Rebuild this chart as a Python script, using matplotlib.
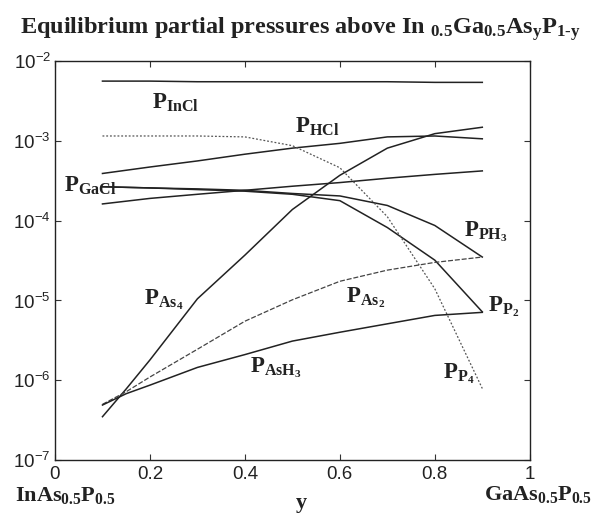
import matplotlib
matplotlib.use("Agg")
import matplotlib.pyplot as plt
from matplotlib.ticker import NullLocator

plt.rcParams['font.family'] = 'Liberation Sans'
plt.rcParams['mathtext.fontset'] = 'custom'
plt.rcParams['mathtext.rm'] = 'Liberation Serif:bold'
plt.rcParams['mathtext.it'] = 'Liberation Serif:bold'
plt.rcParams['mathtext.bf'] = 'Liberation Serif:bold'

#### data ####
y_comp = [0.1, 0.2, 0.3, 0.4, 0.5, 0.6, 0.7, 0.8, 0.9]
y_comp_as = [0.1, 0.15, 0.2, 0.3, 0.4, 0.5, 0.6, 0.7, 0.8, 0.9]

p_incl = [5.6e-3, 5.6e-3, 5.5e-3, 5.5e-3, 5.5e-3, 5.5e-3, 5.5e-3, 5.4e-3, 5.4e-3]
p_hcl = [3.9e-4, 4.7e-4, 5.6e-4, 6.8e-4, 8.1e-4, 9.3e-4, 1.12e-3, 1.15e-3, 1.06e-3]
p_gacl = [1.62e-4, 1.9e-4, 2.14e-4, 2.4e-4, 2.7e-4, 3.0e-4, 3.4e-4, 3.8e-4, 4.2e-4]
p_ph3 = [2.66e-4, 2.57e-4, 2.5e-4, 2.4e-4, 2.19e-4, 2.04e-4, 1.55e-4, 8.7e-5, 3.5e-5]
p_p2 = [2.66e-4, 2.57e-4, 2.45e-4, 2.34e-4, 2.14e-4, 1.78e-4, 8.2e-5, 3.2e-5, 7.2e-6]
p_p4 = [1.15e-3, 1.15e-3, 1.15e-3, 1.12e-3, 8.7e-4, 4.6e-4, 1.12e-4, 1.4e-5, 7.9e-7]
p_as4 = [3.5e-7, 7.8e-7, 1.8e-6, 1.05e-5, 3.7e-5, 1.38e-4, 3.7e-4, 8.1e-4, 1.23e-3, 1.48e-3]
p_as2 = [5.0e-7, 7.2e-7, 1.1e-6, 2.45e-6, 5.5e-6, 1.02e-5, 1.74e-5, 2.4e-5, 3.0e-5, 3.5e-5]
p_ash3 = [4.9e-7, 6.8e-7, 8.7e-7, 1.45e-6, 2.1e-6, 3.1e-6, 4.0e-6, 5.1e-6, 6.5e-6, 7.1e-6]

x_ticks = [0, 0.2, 0.4, 0.6, 0.8, 1]
x_ticklabels = ['0', '0.2', '0.4', '0.6', '0.8', '1']

#### plot ####
fig = plt.figure(figsize=(6.01, 5.17), dpi=100)
ax = fig.add_axes([0.0915, 0.110, 0.79, 0.772])

ax.plot(y_comp, p_incl, color='#222222', lw=1.1)
ax.plot(y_comp, p_hcl, color='#222222', lw=1.1)
ax.plot(y_comp, p_gacl, color='#222222', lw=1.1)
ax.plot(y_comp, p_ph3, color='#222222', lw=1.1)
ax.plot(y_comp, p_p2, color='#222222', lw=1.1)
ax.plot(y_comp, p_p4, color='#555555', lw=0.9, ls=(0, (1.5, 1.5)))
ax.plot(y_comp_as, p_as4, color='#222222', lw=1.1)
ax.plot(y_comp_as, p_as2, color='#444444', lw=0.9, ls=(0, (4, 1.5)))
ax.plot(y_comp_as, p_ash3, color='#222222', lw=1.1)

ax.set_yscale('log')
ax.set_xlim(0, 1)
ax.set_ylim(1e-7, 1e-2)
ax.set_xticks(x_ticks)
ax.set_xticklabels(x_ticklabels)
ax.yaxis.set_minor_locator(NullLocator())
ax.tick_params(direction='in', top=True, right=True, labelsize=13.5, length=4,
               width=0.8, color='#333333', labelcolor='#222222')
ax.tick_params(axis='x', pad=4)
ax.tick_params(axis='y', pad=3)
for s in ax.spines.values():
    s.set_linewidth(1.0)
    s.set_color('#222222')

# curve labels
lab = dict(fontsize=16.5, color='#222222')
ax.text(0.205, 2.55e-3, r'$\mathrm{P}_{\mathrm{InCl}}$', **lab)
ax.text(0.505, 1.25e-3, r'$\mathrm{P}_{\mathrm{HCl}}$', **lab)
ax.text(0.02, 2.3e-4, r'$\mathrm{P}_{\mathrm{GaCl}}$', **lab)
ax.text(0.862, 6.3e-5, r'$\mathrm{P}_{\mathrm{PH_3}}$', **lab)
ax.text(0.188, 9.0e-6, r'$\mathrm{P}_{\mathrm{As_4}}$', **lab)
ax.text(0.612, 9.5e-6, r'$\mathrm{P}_{\mathrm{As_2}}$', **lab)
ax.text(0.912, 7.4e-6, r'$\mathrm{P}_{\mathrm{P_2}}$', **lab)
ax.text(0.41, 1.27e-6, r'$\mathrm{P}_{\mathrm{AsH_3}}$', **lab)
ax.text(0.818, 1.05e-6, r'$\mathrm{P}_{\mathrm{P_4}}$', **lab)

# title and composition labels
fig.text(0.033, 0.935,
         r'Equilibrium partial pressures above In $_{\mathrm{0.5}}$Ga$_{\mathrm{0.5}}$As$_{\mathrm{y}}$P$_{\mathrm{1\text{-}y}}$',
         fontsize=17.5, family='Liberation Serif', weight='bold', color='#222222')
fig.text(0.025, 0.03, r'InAs$_{\mathrm{0.5}}$P$_{\mathrm{0.5}}$', fontsize=16,
         family='Liberation Serif', weight='bold', color='#222222')
fig.text(0.493, 0.018, 'y', fontsize=16, family='Liberation Serif', weight='bold',
         color='#222222')
fig.text(0.805, 0.033, r'GaAs$_{\mathrm{0.5}}$P$_{\mathrm{0.5}}$', fontsize=16,
         family='Liberation Serif', weight='bold', color='#222222')

fig.savefig('out.png', dpi=100)
